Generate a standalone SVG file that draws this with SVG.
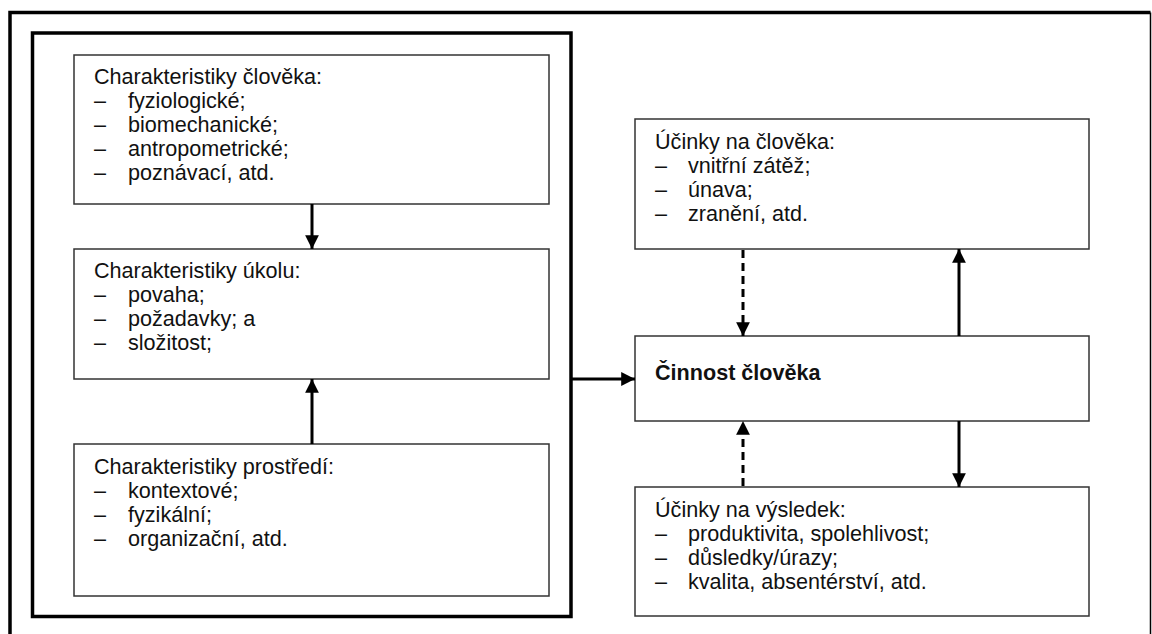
<svg xmlns="http://www.w3.org/2000/svg" width="1152" height="634" viewBox="0 0 1152 634">
<style>
.frame{fill:none;stroke:#000;stroke-width:3.5}
.box{fill:#fff;stroke:#333;stroke-width:1.5}
.t{font-family:"Liberation Sans",Arial,sans-serif;font-size:21.6px;fill:#111}
.b{font-weight:bold}
.line{stroke:#000;stroke-width:3;fill:none}
.dash{stroke:#000;stroke-width:3;fill:none;stroke-dasharray:8 5}
</style>
<defs>
<marker id="ah" viewBox="0 0 10 10" refX="10" refY="5" markerWidth="4.6" markerHeight="4.6" orient="auto" markerUnits="strokeWidth">
<path d="M0,0 L10,5 L0,10 z" fill="#000"/>
</marker>
</defs>
<rect width="1152" height="634" fill="#fff"/>
<g id="outer-frame">
<path class="frame" d="M10,640 V12.5 H1150.5" />
<line x1="1150.5" y1="12.5" x2="1150.5" y2="640" stroke="#000" stroke-width="1.5"/>
</g>
<g id="left-group">
<rect class="frame" x="32.5" y="33" width="538.5" height="583.5"/>
</g>
<g id="char-clovek">
<rect class="box" x="74" y="55" width="475" height="149"/>
<text class="t" x="94" y="84">Charakteristiky člověka:</text>
<text class="t" x="94" y="108">–</text><text class="t" x="128" y="108">fyziologické;</text>
<text class="t" x="94" y="132">–</text><text class="t" x="128" y="132">biomechanické;</text>
<text class="t" x="94" y="156">–</text><text class="t" x="128" y="156">antropometrické;</text>
<text class="t" x="94" y="180">–</text><text class="t" x="128" y="180">poznávací, atd.</text>
</g>
<g id="char-ukol">
<rect class="box" x="74" y="249" width="475" height="130"/>
<text class="t" x="94" y="278">Charakteristiky úkolu:</text>
<text class="t" x="94" y="302">–</text><text class="t" x="128" y="302">povaha;</text>
<text class="t" x="94" y="326">–</text><text class="t" x="128" y="326">požadavky; a</text>
<text class="t" x="94" y="350">–</text><text class="t" x="128" y="350">složitost;</text>
</g>
<g id="char-prostredi">
<rect class="box" x="74" y="444" width="475" height="152"/>
<text class="t" x="94" y="474">Charakteristiky prostředí:</text>
<text class="t" x="94" y="498">–</text><text class="t" x="128" y="498">kontextové;</text>
<text class="t" x="94" y="522">–</text><text class="t" x="128" y="522">fyzikální;</text>
<text class="t" x="94" y="546">–</text><text class="t" x="128" y="546">organizační, atd.</text>
</g>
<g id="ucinky-clovek">
<rect class="box" x="635" y="119" width="454" height="130"/>
<text class="t" x="655" y="149">Účinky na člověka:</text>
<text class="t" x="655" y="173">–</text><text class="t" x="688" y="173">vnitřní zátěž;</text>
<text class="t" x="655" y="197">–</text><text class="t" x="688" y="197">únava;</text>
<text class="t" x="655" y="221">–</text><text class="t" x="688" y="221">zranění, atd.</text>
</g>
<g id="cinnost">
<rect class="box" x="635" y="336" width="454" height="85"/>
<text class="t b" x="655" y="380">Činnost člověka</text>
</g>
<g id="ucinky-vysledek">
<rect class="box" x="635" y="487" width="454" height="129"/>
<text class="t" x="655" y="517">Účinky na výsledek:</text>
<text class="t" x="655" y="541">–</text><text class="t" x="688" y="541">produktivita, spolehlivost;</text>
<text class="t" x="655" y="565">–</text><text class="t" x="688" y="565">důsledky/úrazy;</text>
<text class="t" x="655" y="589">–</text><text class="t" x="688" y="589">kvalita, absentérství, atd.</text>
</g>
<g id="connectors">
<line class="line" x1="312" y1="204" x2="312" y2="249" marker-end="url(#ah)"/>
<line class="line" x1="312" y1="444" x2="312" y2="379" marker-end="url(#ah)"/>
<line class="line" x1="572" y1="379" x2="635" y2="379" marker-end="url(#ah)"/>
<line class="dash" x1="743" y1="250" x2="743" y2="336" marker-end="url(#ah)"/>
<line class="dash" x1="743" y1="486" x2="743" y2="421" marker-end="url(#ah)"/>
<line class="line" x1="959" y1="336" x2="959" y2="249" marker-end="url(#ah)"/>
<line class="line" x1="959" y1="421" x2="959" y2="487" marker-end="url(#ah)"/>
</g>
</svg>
